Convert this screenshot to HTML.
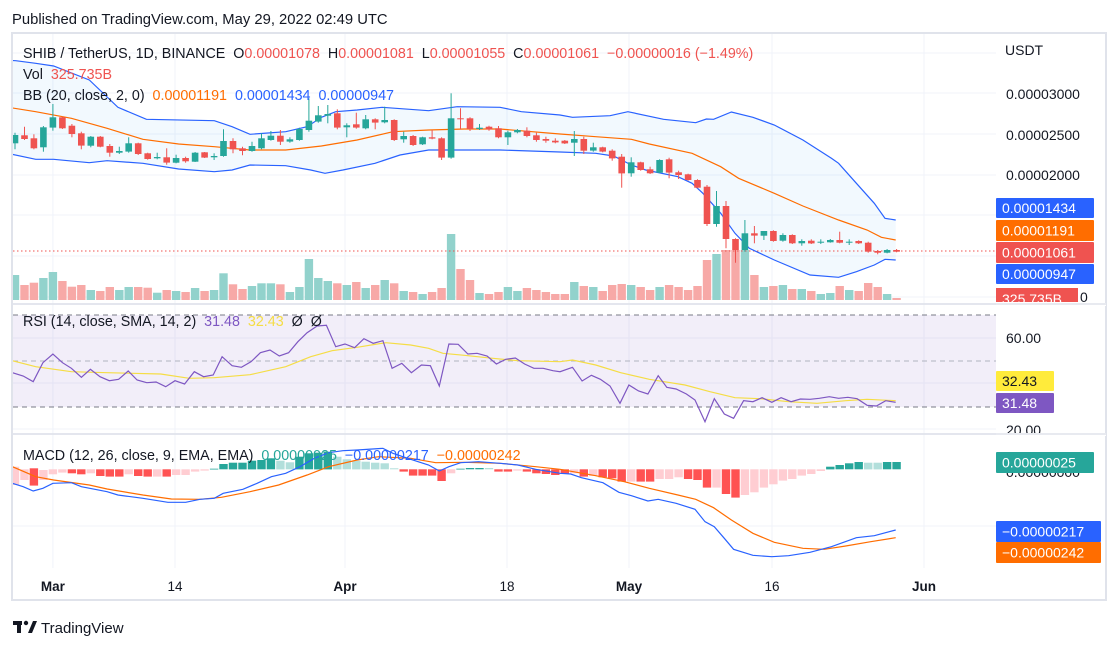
<!DOCTYPE html>
<html><head><meta charset="utf-8">
<style>
html,body{margin:0;padding:0;background:#fff;width:1116px;height:648px;overflow:hidden;font-family:"Liberation Sans",sans-serif;}
svg text{font-family:"Liberation Sans",sans-serif;}
</style></head>
<body>
<svg id="s" width="1116" height="648" xmlns="http://www.w3.org/2000/svg"></svg>
<script>
const S=document.getElementById('s');let out='';
const X0=52.9,DX=9.48;
function cx(i){return X0+i*DX;}
function P(pts,bx,by){return pts.map(p=>(bx+p[0]/2.8).toFixed(1)+','+(by+p[1]/3).toFixed(1)).join(' ');}
out+='<rect x="12" y="33" width="1094" height="567" fill="#fff" stroke="#e0e3eb" stroke-width="2"/>';
out+='<defs><clipPath id="cm"><rect x="13" y="34" width="983" height="269"/></clipPath><clipPath id="cr"><rect x="13" y="304" width="983" height="129"/></clipPath><clipPath id="cd"><rect x="13" y="435" width="983" height="133"/></clipPath></defs>';
[52.9,175,345,507,629,772,924].forEach(x=>out+=`<line x1="${x}" y1="34" x2="${x}" y2="568" stroke="#f0f3fa"/>`);
[53,93,134,175,215,256,297].forEach(y=>out+=`<line x1="13" y1="${y}" x2="996" y2="${y}" stroke="#f0f3fa"/>`);
[338,383,429,526].forEach(y=>out+=`<line x1="13" y1="${y}" x2="996" y2="${y}" stroke="#f0f3fa"/>`);
out+='<line x1="12" y1="304" x2="1106" y2="304" stroke="#e0e3eb" stroke-width="1.5"/><line x1="12" y1="434" x2="1106" y2="434" stroke="#e0e3eb" stroke-width="1.5"/>';
const up1=[[0,90],[44,92],[100,100],[150,108],[250,150],[330,232],[410,268],[600,272],[650,290],[700,313],[800,305],[860,290],[900,262],[940,245],[1000,240],[1070,232],[1200,242],[1280,230],[1400,232],[1460,245],[1568,255]];
const up2=[[35,262],[140,257],[190,245],[290,268],[380,278],[410,267],[430,268],[480,246],[540,262],[600,285],[680,330],[760,385],[780,400],[830,460],[880,520],[910,565],[940,570]];
const md1=[[0,228],[100,245],[200,265],[300,295],[400,328],[500,342],[600,350],[700,360],[800,360],[900,348],[1000,330],[1100,305],[1200,300],[1300,297],[1400,297],[1568,312]];
const md2=[[100,320],[200,328],[250,342],[370,370],[450,410],[500,445],[600,490],[680,528],[780,570],[860,600],[900,622],[940,630]];
const lo1=[[0,365],[100,388],[150,388],[250,398],[300,392],[400,400],[500,417],[600,425],[650,420],[700,405],[800,407],[870,420],[910,430],[960,420],[1050,400],[1120,375],[1200,360],[1400,360],[1568,366]];
const lo2=[[100,370],[150,378],[200,405],[240,420],[330,440],[370,460],[400,490],[450,550],[490,610],[530,655],[600,690],[700,735],[780,742],[830,725],[880,705],[910,688],[940,690]];
const U=P(up1,0,30)+' '+P(up2,560,30), M=P(md1,0,30)+' '+P(md2,560,30), L=P(lo1,0,30)+' '+P(lo2,560,30);
const Lrev=L.split(' ').reverse().join(' ');
out+='<g clip-path="url(#cm)">';
out+=`<polygon points="${U} ${Lrev}" fill="#2196f3" fill-opacity="0.06"/>`;
const vt=[735,765,758,744,726,753,770,765,780,783,771,780,771,771,773,788,780,783,786,774,783,780,730,763,777,768,760,760,763,786,771,687,744,753,760,765,756,774,765,750,760,783,786,792,786,774,612,717,750,789,792,786,771,783,774,780,786,792,
792,756,768,771,783,765,762,765,771,780,771,765,771,780,768,690,672,660,660,660,735,771,768,765,777,777,783,792,789,768,780,783,759,771,792,804];
const C=[[315,340,'g',308,358],[316,327,'r',290,330],[325,355,'r',313,358],[292,352,'g',288,365],[262,293,'g',222,302],[262,295,'r',260,297],[287,312,'r',282,322],[310,347,'r',305,358],[320,347,'g',318,352],[320,350,'r',318,352],[348,368,'r',342,380],[363,368,'g',350,372],[340,365,'g',322,368],[340,372,'r',338,375],[370,387,'r',368,389],[381,385,'g',368,388],[382,398,'r',355,404],[384,398,'g',374,400],[384,394,'r',380,398],[368,395,'g',366,396],[367,383,'r',366,384],[378,382,'g',370,390],[333,378,'g',298,380],[333,358,'r',325,370],[355,363,'r',350,376],[348,363,'g',335,365],[325,355,'g',310,358],[317,330,'g',303,332],[317,335,'r',300,345],[328,335,'g',322,338],[297,330,'g',293,332],[272,300,'g',205,305],[256,275,'g',228,278],[252,257,'g',225,280],[250,293,'r',238,298],[286,292,'g',280,322],[283,293,'r',248,296],[268,295,'g',255,298],[268,278,'r',265,298],[270,277,'g',230,280],[270,330,'r',268,333],[318,328,'g',305,338],[318,345,'r',315,348],[322,343,'g',320,345],[322,326,'r',300,328],[325,383,'r',322,390],[265,383,'g',190,386],[265,268,'r',235,298],[265,297,'r',262,303],[293,297,'g',282,300],[290,298,'r',287,302],[295,322,'r',288,325],[307,322,'g',302,345],[300,307,'g',297,310],[302,318,'r',292,322],[316,330,'r',308,335],[327,332,'r',320,338],[332,337,'r',325,340],
[332,340,'r',330,342],[327,338,'g',303,378],[327,362,'r',320,372],[352,362,'g',338,365],[352,365,'r',350,367],[362,385,'r',358,392],[380,430,'r',372,473],[397,430,'g',382,440],[397,420,'r',395,422],[418,430,'r',410,432],[390,428,'g',388,430],[388,428,'r',383,445],[427,435,'r',422,447],[433,450,'r',431,452],[450,473,'r',448,475],[470,582,'r',465,588],[528,582,'g',483,590],[528,627,'r',513,655],[627,660,'r',625,698],[610,660,'g',570,665],[610,617,'r',588,640],[603,617,'g',603,630],[603,633,'r',601,635],[615,632,'g',610,635],[615,640,'r',613,642],[633,640,'g',628,647],[632,640,'r',628,642],[635,638,'g',628,642],[630,637,'g',627,638],[630,638,'r',605,640],[635,637,'g',628,645],[633,640,'r',631,642],[638,665,'r',635,668],[663,668,'r',660,673],[660,668,'g',657,670],[660,665,'r',657,667]];
C.forEach((c,k)=>{const i=k-4,x=cx(i);const t=30+vt[k]/3;const col=c[2]=='g'?'#92d2cc':'#f7a9a7';out+=`<rect x="${(x-4.2).toFixed(1)}" y="${t.toFixed(1)}" width="8.4" height="${(300-t).toFixed(1)}" fill="${col}"/>`;});
out+=`<line x1="13" y1="251" x2="996" y2="251" stroke="#ef5350" stroke-dasharray="1.5,2.5"/>`;
out+=`<polyline points="${U}" fill="none" stroke="#2962ff" stroke-width="1.2"/><polyline points="${L}" fill="none" stroke="#2962ff" stroke-width="1.2"/><polyline points="${M}" fill="none" stroke="#ff6d00" stroke-width="1.2"/>`;
C.forEach((c,k)=>{const i=k-4,x=cx(i);const col=c[2]=='g'?'#26a69a':'#ef5350';const t=30+c[0]/3,b=30+c[1]/3;out+=`<line x1="${x.toFixed(1)}" y1="${(30+c[3]/3).toFixed(1)}" x2="${x.toFixed(1)}" y2="${(30+c[4]/3).toFixed(1)}" stroke="${col}"/><rect x="${(x-3.3).toFixed(1)}" y="${t.toFixed(1)}" width="6.6" height="${Math.max(1,b-t).toFixed(1)}" fill="${col}"/>`;});
out+='</g>';
out+='<g clip-path="url(#cr)">';
out+='<rect x="13" y="315" width="983" height="92" fill="#7e57c2" fill-opacity="0.1"/>';
[315,361,407].forEach((y,j)=>out+=`<line x1="13" y1="${y}" x2="996" y2="${y}" stroke="${j==1?'#b0b4c0':'#787b86'}" stroke-dasharray="5,4"/>`);
const r1=[[35,218],[65,228],[93,245],[120,188],[148,162],[175,188],[200,205],[228,232],[253,208],[280,230],[306,242],[332,238],[359,213],[384,240],[411,248],[437,246],[464,260],[490,242],[517,252],[544,215],[570,230],[597,225],[622,170],[650,197],[676,202],[703,185],[729,158],[756,150],[782,168],[808,158],[834,125],[860,98],[888,78],[914,76],[940,140],[966,132],[993,143],[1019,116],[1045,130],[1072,122],[1098,205],[1125,190],[1152,218],[1180,195],[1205,197],[1230,258],[1257,132],[1283,133],[1310,162],[1336,160],[1364,168],[1390,192],[1416,178],[1443,174],[1469,192],[1495,205],[1521,205],[1548,212],[1568,215]];
const r2=[[35,202],[62,243],[88,226],[113,238],[140,258],[168,310],[193,255],[220,273],[246,282],[275,227],[299,262],[325,267],[354,282],[378,300],[406,365],[432,296],[460,342],[486,355],[514,302],[540,305],[566,293],[593,307],[619,293],[647,305],[673,297],[700,298],[726,295],[754,290],[780,295],[806,292],[832,296],[860,316],[886,318],[912,302],[940,307]];
const y1=[[35,182],[100,200],[200,215],[300,218],[450,222],[530,235],[600,233],[700,224],[800,200],[870,170],[930,152],[1000,142],[1080,128],[1150,135],[1200,145],[1240,160],[1300,166],[1380,175],[1450,182],[1568,185]];
const y2=[[35,180],[100,195],[170,218],[250,238],[350,255],[420,275],[490,293],[560,296],[640,305],[720,310],[800,302],[860,298],[940,302]];
out+=`<polyline points="${P(y1,0,300)} ${P(y2,560,300)}" fill="none" stroke="#f5dd45" stroke-width="1.2"/>`;
out+=`<polyline points="${P(r1,0,300)} ${P(r2,560,300)}" fill="none" stroke="#7e57c2" stroke-width="1.2"/>`;
out+='</g>';
out+='<g clip-path="url(#cd)">';
const H=[[500,555,'p'],[508,540,'p'],[505,557,'r'],[510,540,'p'],[508,523,'p'],[508,518,'p'],[508,520,'r'],[508,523,'r'],[508,520,'p'],[508,528,'r'],[508,530,'r'],[508,530,'r'],[508,523,'p'],[508,528,'r'],[508,530,'r'],[508,530,'p'],[508,530,'r'],[508,525,'p'],[508,525,'p'],[508,515,'p'],[508,512,'p'],[506,508,'g'],[492,508,'g'],[488,508,'g'],[488,508,'g'],[482,508,'g'],[480,508,'g'],[475,508,'g'],[482,508,'l'],[487,508,'l'],[470,508,'g'],[460,508,'g'],[458,508,'g'],[455,508,'g'],[470,508,'l'],[478,508,'l'],[482,508,'l'],[485,508,'l'],[488,508,'l'],[490,508,'l'],[505,508,'l'],[508,515,'r'],[508,527,'r'],[508,527,'r'],[508,527,'r'],[508,543,'r'],[508,520,'p'],[506,508,'g'],[504,508,'g'],[504,508,'g'],[504,508,'l'],[508,515,'r'],[508,515,'r'],[508,512,'p'],[508,515,'r'],[508,520,'r'],[508,522,'r'],[508,525,'r'],
[508,522,'r'],[508,520,'p'],[508,530,'r'],[508,528,'p'],[508,532,'r'],[508,535,'r'],[508,545,'r'],[508,545,'p'],[508,545,'r'],[508,545,'r'],[508,537,'p'],[508,537,'p'],[508,532,'p'],[508,537,'r'],[508,540,'r'],[508,563,'r'],[508,563,'p'],[508,582,'r'],[508,593,'r'],[508,585,'p'],[508,577,'p'],[508,563,'p'],[508,553,'p'],[508,542,'p'],[508,537,'p'],[508,527,'p'],[508,522,'p'],[508,513,'p'],[500,508,'g'],[495,508,'g'],[490,508,'g'],[486,508,'g'],[488,508,'l'],[488,508,'l'],[486,508,'g'],[486,508,'g']];
const HC={g:'#26a69a',l:'#b2dfdb',r:'#ff5252',p:'#ffcdd2'};
H.forEach((h,k)=>{const x=cx(k-4),t=300+h[0]/3,b=300+h[1]/3;out+=`<rect x="${(x-4.2).toFixed(1)}" y="${t.toFixed(1)}" width="8.4" height="${Math.max(0.8,b-t).toFixed(1)}" fill="${HC[h[2]]}"/>`;});
const m1=[[35,550],[65,560],[93,573],[120,565],[148,550],[200,548],[228,560],[300,575],[330,585],[400,595],[470,607],[520,607],[560,598],[600,595],[625,580],[680,568],[720,550],[760,530],[800,520],[840,500],[880,475],[920,458],[960,452],[1000,450],[1072,445],[1100,460],[1150,478],[1200,495],[1230,513],[1257,500],[1290,488],[1340,485],[1400,490],[1450,495],[1500,508],[1568,520]];
const m2=[[30,522],[60,533],[120,548],[165,577],[200,587],[246,603],[275,598],[325,610],[378,628],[406,665],[432,680],[460,715],[486,748],[540,766],[593,770],[640,767],[700,757],[760,740],[830,713],[880,707],[940,690]];
const s1=[[35,500],[100,530],[150,540],[250,555],[300,567],[400,585],[480,597],[560,598],[620,592],[700,575],[780,555],[860,525],[920,500],[1000,480],[1060,470],[1150,475],[1220,488],[1300,487],[1400,490],[1500,500],[1568,508]];
const s2=[[100,527],[180,545],[250,565],[330,585],[380,598],[430,623],[480,660],[540,700],[600,727],[680,745],[740,748],[800,738],[870,725],[940,713]];
out+=`<polyline points="${P(s1,0,300)} ${P(s2,560,300)}" fill="none" stroke="#ff6d00" stroke-width="1.2"/>`;
out+=`<polyline points="${P(m1,0,300)} ${P(m2,560,300)}" fill="none" stroke="#2962ff" stroke-width="1.2"/>`;
out+='</g>';
const T=(x,y,s,c,sz,extra)=>`<text x="${x}" y="${y}" fill="${c}" font-size="${sz||13}" ${extra||''}>${s}</text>`;
const F=14.3;
out+=`<text x="23" y="58" font-size="${F}" fill="#131722" xml:space="preserve">SHIB / TetherUS, 1D, BINANCE  O<tspan fill="#ef5350">0.00001078</tspan>  H<tspan fill="#ef5350">0.00001081</tspan>  L<tspan fill="#ef5350">0.00001055</tspan>  C<tspan fill="#ef5350">0.00001061  −0.00000016 (−1.49%)</tspan></text>`;
out+=`<text x="23" y="79" font-size="${F}" fill="#131722" xml:space="preserve">Vol  <tspan fill="#ef5350">325.735B</tspan></text>`;
out+=`<text x="23" y="100" font-size="${F}" fill="#131722" xml:space="preserve">BB (20, close, 2, 0)  <tspan fill="#ff6d00">0.00001191</tspan>  <tspan fill="#2962ff">0.00001434</tspan>  <tspan fill="#2962ff">0.00000947</tspan></text>`;
out+=`<text x="23" y="326" font-size="${F}" fill="#131722" xml:space="preserve">RSI (14, close, SMA, 14, 2)  <tspan fill="#7e57c2">31.48</tspan>  <tspan fill="#f5dd45">32.43</tspan>  Ø  Ø</text>`;
out+=`<text x="23" y="460" font-size="${F}" fill="#131722" xml:space="preserve">MACD (12, 26, close, 9, EMA, EMA)  <tspan fill="#26a69a">0.00000025</tspan>  <tspan fill="#2962ff">−0.00000217</tspan>  <tspan fill="#ff6d00">−0.00000242</tspan></text>`;
out+=T(1005,55,'USDT','#131722',14);
[[94,'0.00003000'],[135,'0.00002500'],[175,'0.00002000']].forEach(a=>out+=T(1006,a[0]+5,a[1],'#131722',14));
const box=(y,h,w,c,t,tc)=>`<rect x="996" y="${y}" width="${w}" height="${h}" fill="${c}" rx="1"/><text x="${1002}" y="${y+h/2+5}" fill="${tc||'#fff'}" font-size="14">${t}</text>`;
out+=box(198,20,98,'#2962ff','0.00001434')+box(220,21,98,'#ff6d00','0.00001191')+box(242,21,98,'#ef5350','0.00001061')+box(264,20,98,'#2962ff','0.00000947');
out+=`<rect x="996" y="288" width="82" height="14" fill="#ef5350"/><text x="1002" y="304" fill="#fff" font-size="14">325.735B</text><text x="1080" y="302" fill="#131722" font-size="14">0</text>`;
out+='<rect x="996" y="303" width="110" height="3" fill="#fff"/><line x1="12" y1="304" x2="1106" y2="304" stroke="#e0e3eb" stroke-width="1.5"/>';
out+=T(1006,343,'60.00','#131722',14)+T(1006,435,'20.00','#131722',14);
out+='<rect x="996" y="433" width="110" height="3" fill="#fff"/><line x1="12" y1="434" x2="1106" y2="434" stroke="#e0e3eb" stroke-width="1.5"/>';
out+=box(371,20,58,'#ffeb3b','32.43','#131722')+box(393,20,58,'#7e57c2','31.48');
out+=T(1006,477,'0.00000000','#131722',14);
out+=box(452,21,98,'#26a69a','0.00000025')+box(521,21,105,'#2962ff','−0.00000217')+box(542,21,105,'#ff6d00','−0.00000242');
[[52.9,'Mar',1],[175,'14',0],[345,'Apr',1],[507,'18',0],[629,'May',1],[772,'16',0],[924,'Jun',1]].forEach(a=>out+=`<text x="${a[0]}" y="591" text-anchor="middle" font-size="13.5" fill="#131722" ${a[2]?'font-weight="bold"':''}>${a[1]}</text>`);
out+=T(12,24,'Published on TradingView.com, May 29, 2022 02:49 UTC','#131722',14.8);
out+='<g fill="#131722"><rect x="13" y="621" width="9" height="4"/><rect x="17" y="621" width="4" height="12"/><circle cx="26" cy="623" r="2.2"/><polygon points="28,633 33,621 37,621 32,633"/></g>';
out+=T(41,633,'TradingView','#131722',15);
S.innerHTML=out;
</script>
</body></html>
